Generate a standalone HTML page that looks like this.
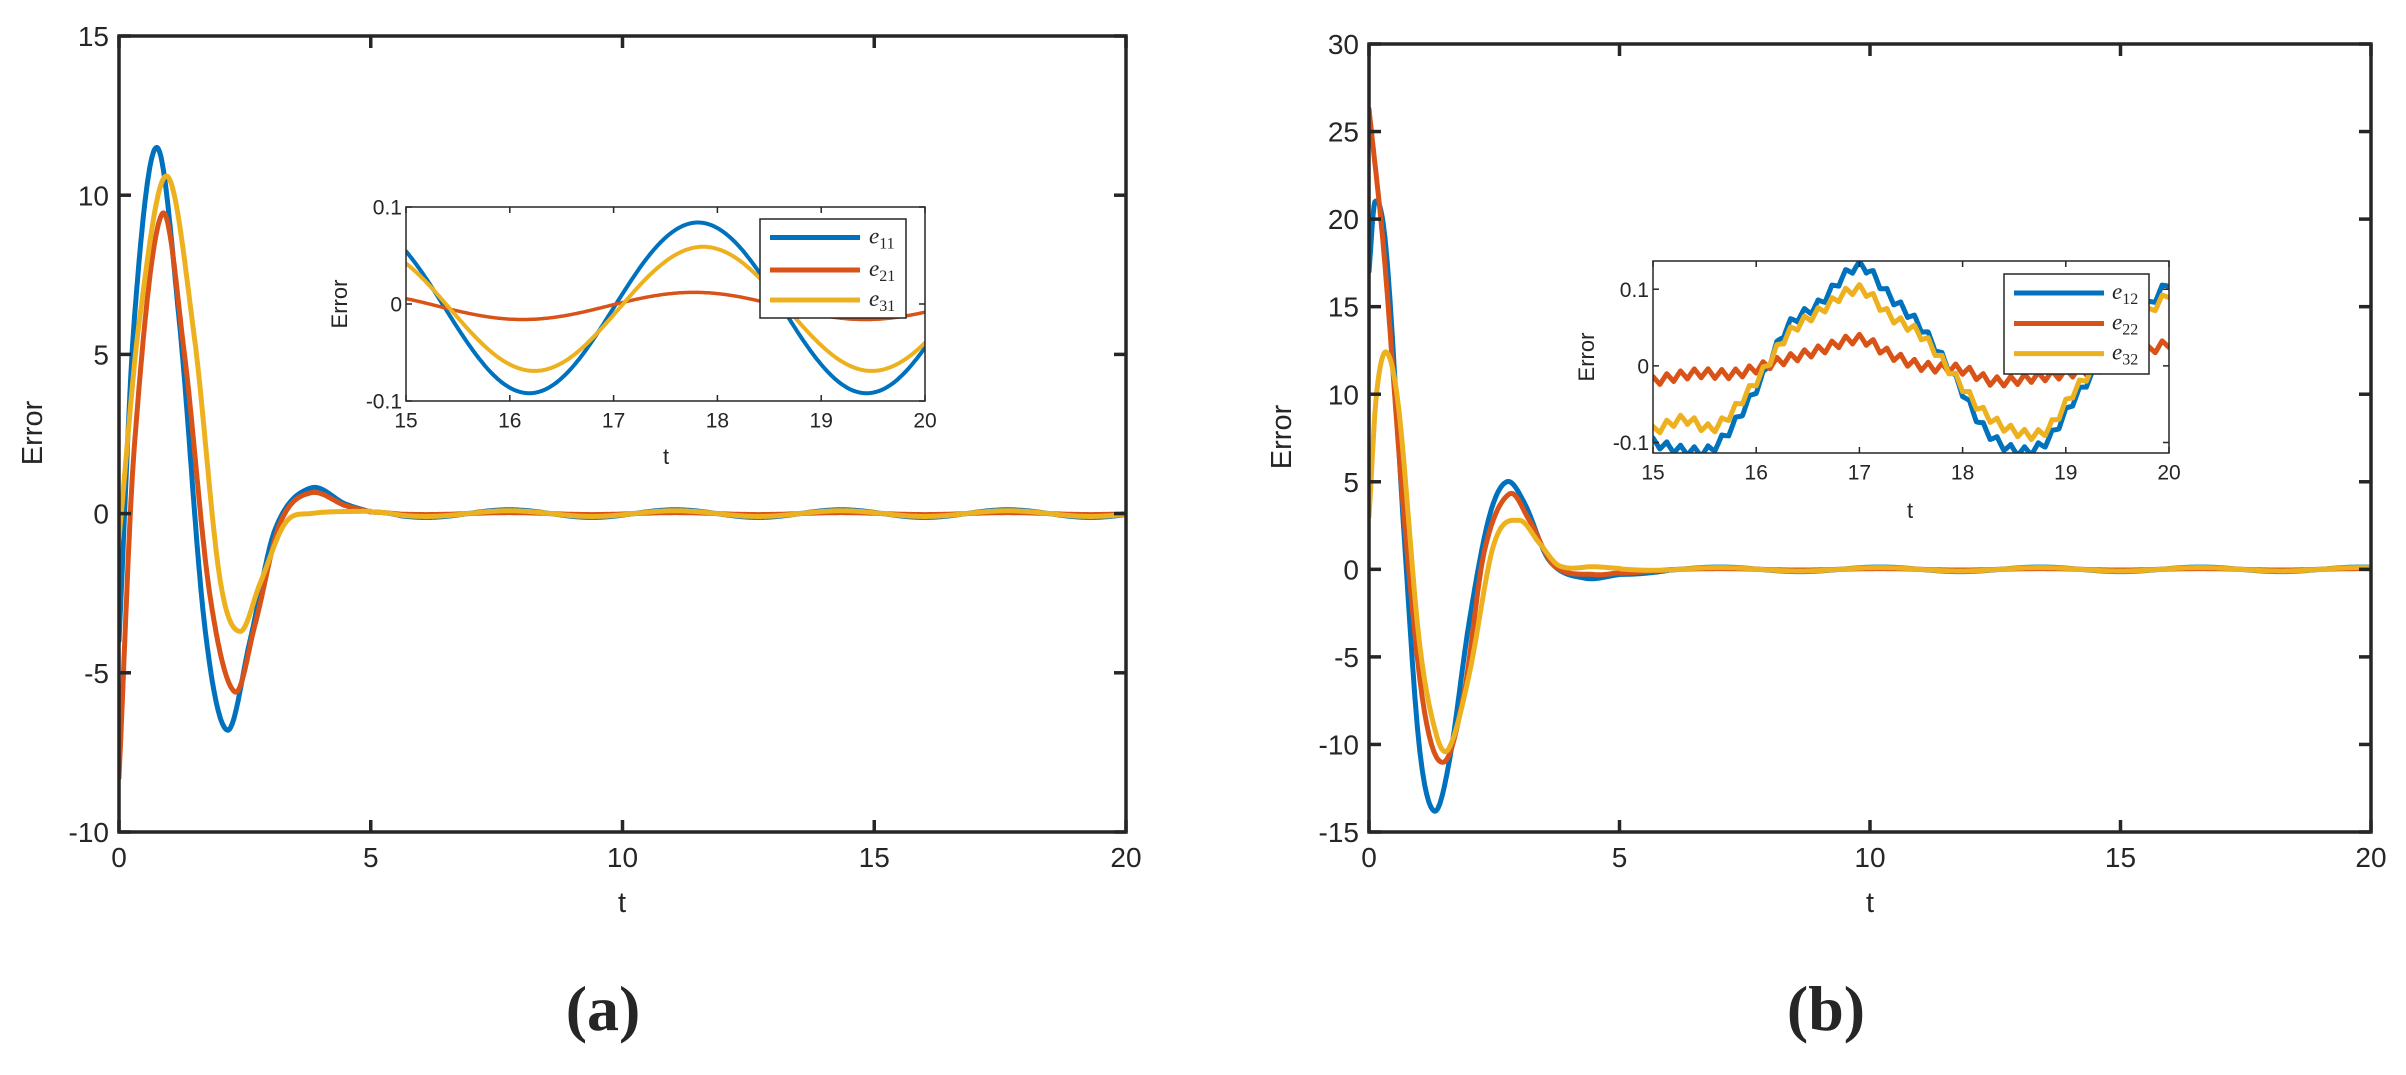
<!DOCTYPE html>
<html><head><meta charset="utf-8"><style>
html,body{margin:0;padding:0;background:#fff;}
svg text{font-family:"Liberation Sans",sans-serif;fill:#262626;}
</style></head><body>
<svg id="s" width="2406" height="1070" xmlns="http://www.w3.org/2000/svg">
<rect width="2406" height="1070" fill="#fff"/>
<g id="g"></g>
</svg>
<script>
const NS="http://www.w3.org/2000/svg";
const G=document.getElementById('g');
function el(tag,attrs,txt){const e=document.createElementNS(NS,tag);for(const k in attrs)e.setAttribute(k,attrs[k]);if(txt!==undefined)e.textContent=txt;G.appendChild(e);return e;}
function spline(pts,t){
  let i=0;while(i<pts.length-2&&t>pts[i+1][0])i++;
  const p0=pts[Math.max(i-1,0)],p1=pts[i],p2=pts[i+1],p3=pts[Math.min(i+2,pts.length-1)];
  const u=(t-p1[0])/(p2[0]-p1[0]);
  const m1=(p2[1]-p0[1])/(p2[0]-p0[0]||1)*(p2[0]-p1[0]);
  const m2=(p3[1]-p1[1])/(p3[0]-p1[0]||1)*(p2[0]-p1[0]);
  const u2=u*u,u3=u2*u;
  return (2*u3-3*u2+1)*p1[1]+(u3-2*u2+u)*m1+(-2*u3+3*u2)*p2[1]+(u3-u2)*m2;
}
const C=["#0072BD","#D95319","#EDB120"];
function axes(x0,y0,x1,y1,xmin,xmax,ymin,ymax,xt,yt,lw,tl,fs,xlab,ylab,lblOff){
  const X=v=>x0+(v-xmin)/(xmax-xmin)*(x1-x0), Y=v=>y1-(v-ymin)/(ymax-ymin)*(y1-y0);
  return {X,Y,draw(){
    el('rect',{x:x0,y:y0,width:x1-x0,height:y1-y0,fill:'none',stroke:'#262626','stroke-width':lw});
    xt.forEach(v=>{const x=X(v);el('line',{x1:x,y1:y1,x2:x,y2:y1-tl,stroke:'#262626','stroke-width':lw});el('line',{x1:x,y1:y0,x2:x,y2:y0+tl,stroke:'#262626','stroke-width':lw});
      el('text',{x:x,y:y1+fs*1.25,'font-size':fs,'text-anchor':'middle'},xlab(v));});
    yt.forEach(v=>{const y=Y(v);el('line',{x1:x0,y1:y,x2:x0+tl,y2:y,stroke:'#262626','stroke-width':lw});el('line',{x1:x1,y1:y,x2:x1-tl,y2:y,stroke:'#262626','stroke-width':lw});
      el('text',{x:x0-lblOff,y:y+fs*0.36,'font-size':fs,'text-anchor':'end'},ylab(v));});
  }};
}
function plotFn(ax,f,t0,t1,n,col,w,clip){
  let d='';for(let i=0;i<=n;i++){const t=t0+(t1-t0)*i/n;const x=ax.X(t),y=ax.Y(f(t));d+=(i?'L':'M')+x.toFixed(1)+' '+y.toFixed(1);}
  const p=el('path',{d:d,fill:'none',stroke:col,'stroke-width':w,'stroke-linejoin':'round','stroke-linecap':'round'});
  if(clip)p.setAttribute('clip-path','url(#'+clip+')');
}
function clipRect(id,x,y,w,h){const d=document.createElementNS(NS,'clipPath');d.setAttribute('id',id);const r=document.createElementNS(NS,'rect');r.setAttribute('x',x);r.setAttribute('y',y);r.setAttribute('width',w);r.setAttribute('height',h);d.appendChild(r);G.appendChild(d);}
const fmt=v=>String(v);
// ---------- LEFT MAIN ----------
const A=axes(119,36,1126,832,0,20,-10,15,[0,5,10,15,20],[-10,-5,0,5,10,15],3.5,12,28,fmt,fmt,10);
const L1=[[0,-4],[0.3,6],[0.75,11.5],[1.2,6],[1.7,-3.5],[2.15,-6.8],[2.6,-4],[3.1,-0.5],[3.8,0.8],[4.5,0.3],[5,0.05]];
const L2=[[0,-8.3],[0.3,2],[0.85,9.4],[1.3,5],[1.8,-2.5],[2.3,-5.6],[2.7,-3.5],[3.2,-0.3],[3.8,0.65],[4.5,0.25],[5,0.05]];
const L3=[[0,-0.8],[0.4,6],[0.95,10.6],[1.5,5.5],[2,-2],[2.4,-3.7],[2.8,-2.2],[3.3,-0.3],[3.8,0],[5,0.08]];
const tailL=(amp,off)=>t=>-amp*Math.cos(2*Math.PI*(t-6.1)/3.3)+off;
const fL=(pts,tl)=>t=>t<=5?spline(pts,t):tl(t)*Math.min(1,(t-5)/0.6)+0.05*Math.max(0,1-(t-5)/0.6);
clipRect('c1',119,36,1007,796);
plotFn(A,fL(L1,tailL(0.12,0)),0,20,1200,C[0],5,'c1');
plotFn(A,fL(L2,tailL(0.03,0)),0,20,1200,C[1],5,'c1');
plotFn(A,fL(L3,tailL(0.09,0)),0,20,1200,C[2],5,'c1');
A.draw();
el('text',{x:0,y:0,'font-size':29,'text-anchor':'middle',transform:'translate(42,433) rotate(-90)'},'Error');
el('text',{x:622,y:912,'font-size':29,'text-anchor':'middle'},'t');
el('text',{x:603,y:1030,'font-size':64,'font-weight':'bold','text-anchor':'middle',style:'font-family:"Liberation Serif",serif'},'(a)');
// ---------- LEFT INSET ----------
el('rect',{x:406,y:207,width:519,height:194,fill:'#fff'});
const I=axes(406,207,925,401,15,20,-0.1,0.1,[15,16,17,18,19,20],[-0.1,0,0.1],1.5,6,21,fmt,fmt,4);
clipRect('c2',406,207,519,194);
const w1=t=>Math.sin(2*Math.PI*(t-17)/3.25);
plotFn(I,t=>0.088*w1(t)-0.004,15,20,400,C[0],4,'c2');
plotFn(I,t=>0.014*Math.sin(2*Math.PI*(t-16.95)/3.3)-0.002,15,20,400,C[1],3.5,'c2');
plotFn(I,t=>0.064*Math.sin(2*Math.PI*(t-17.05)/3.25)-0.005,15,20,400,C[2],4,'c2');
I.draw();
el('text',{x:0,y:0,'font-size':22,'text-anchor':'middle',transform:'translate(347,304) rotate(-90)'},'Error');
el('text',{x:666,y:464,'font-size':22,'text-anchor':'middle'},'t');
function legend(x,y,w,h,lx1,lx2,tx,rows,labels){
  el('rect',{x:x,y:y,width:w,height:h,fill:'#fff',stroke:'#262626','stroke-width':1.5});
  rows.forEach((ry,i)=>{el('line',{x1:lx1,y1:ry,x2:lx2,y2:ry,stroke:C[i],'stroke-width':5});
    const t=el('text',{x:tx,y:ry+6,'font-size':23,style:'font-family:"Liberation Serif",serif;font-style:italic'});
    const a=document.createElementNS(NS,'tspan');a.textContent='e';t.appendChild(a);
    const b=document.createElementNS(NS,'tspan');b.setAttribute('font-size','16');b.setAttribute('dy','5');b.setAttribute('style','font-style:normal');b.textContent=labels[i];t.appendChild(b);});
}
legend(760,219,146,99,770,860,869,[237.5,270,300],['11','21','31']);
// ---------- RIGHT MAIN ----------
const B=axes(1369,44,2371,832,0,20,-15,30,[0,5,10,15,20],[-15,-10,-5,0,5,10,15,20,25,30],3.5,12,28,fmt,fmt,10);
const R1=[[0,17],[0.12,21],[0.35,18],[0.7,2],[1.0,-10],[1.3,-13.8],[1.6,-11],[2.0,-3],[2.4,3],[2.75,5],[3.1,3.8],[3.6,0.5],[4.3,-0.5],[5,-0.3]];
const R2=[[0,26.3],[0.3,18],[0.7,3],[1.1,-8],[1.5,-11],[1.9,-7],[2.3,1],[2.8,4.3],[3.2,2.8],[3.7,0.2],[4.5,-0.3],[5,-0.2]];
const R3=[[0,3],[0.15,10],[0.35,12.4],[0.6,9],[1.0,-4],[1.35,-9.5],[1.6,-10.2],[2.0,-6],[2.5,1.5],[3.0,2.8],[3.4,1.5],[3.8,0.2],[4.5,0.15],[5,0.05]];
const tailR=(amp)=>t=>amp*Math.sin(2*Math.PI*(t-6.2)/3.2);
const fR=(pts,tl,e)=>t=>t<=5?spline(pts,t):tl(t)+e*Math.max(0,1-(t-5)/1);
clipRect('c3',1369,44,1002,788);
plotFn(B,fR(R1,tailR(0.13),-0.2),0,20,1200,C[0],5,'c3');
plotFn(B,fR(R2,tailR(0.04),-0.2),0,20,1200,C[1],5,'c3');
plotFn(B,fR(R3,tailR(0.1),0.1),0,20,1200,C[2],5,'c3');
B.draw();
el('text',{x:0,y:0,'font-size':29,'text-anchor':'middle',transform:'translate(1291,437) rotate(-90)'},'Error');
el('text',{x:1870,y:912,'font-size':29,'text-anchor':'middle'},'t');
el('text',{x:1826,y:1030,'font-size':64,'font-weight':'bold','text-anchor':'middle',style:'font-family:"Liberation Serif",serif'},'(b)');
// ---------- RIGHT INSET ----------
el('rect',{x:1653,y:261,width:516,height:192,fill:'#fff'});
const J=axes(1653,261,2169,453,15,20,-0.1137,0.1368,[15,16,17,18,19,20],[-0.1,0,0.1],1.5,6,21,fmt,fmt,4);
clipRect('c4',1653,261,516,192);
const base1=[[15,-0.1],[15.3,-0.11],[15.6,-0.105],[16,-0.03],[16.3,0.05],[16.6,0.08],[17,0.13],[17.3,0.09],[17.6,0.05],[17.9,-0.01],[18.2,-0.08],[18.5,-0.11],[18.8,-0.1],[19.1,-0.04],[19.5,0.03],[20,0.11]];
const base3=[[15,-0.085],[15.3,-0.07],[15.6,-0.08],[16,-0.02],[16.3,0.04],[16.6,0.07],[17,0.1],[17.3,0.065],[17.6,0.04],[17.9,-0.01],[18.2,-0.06],[18.5,-0.085],[18.8,-0.085],[19.1,-0.03],[19.5,0.03],[20,0.095]];
const base2=[[15,-0.02],[15.4,-0.01],[15.8,-0.01],[16.2,0.005],[16.6,0.02],[17,0.035],[17.3,0.015],[17.6,0.0],[18,-0.005],[18.3,-0.02],[18.7,-0.015],[19,-0.01],[19.4,0.0],[20,0.03]];
const stair=(pts,a)=>t=>{const v=spline(pts,t);const ph=(t*7.5)%1;return v+a*(ph<0.5?ph*2-0.5:1.5-ph*2);};
plotFn(J,stair(base1,0.012),15,20,600,C[0],5,'c4');
plotFn(J,stair(base2,0.012),15,20,600,C[1],5,'c4');
plotFn(J,stair(base3,0.012),15,20,600,C[2],5,'c4');
J.draw();
el('text',{x:0,y:0,'font-size':22,'text-anchor':'middle',transform:'translate(1594,357) rotate(-90)'},'Error');
el('text',{x:1910,y:518,'font-size':22,'text-anchor':'middle'},'t');
legend(2004,274,145,100,2014,2104,2112,[293,323.5,353.6],['12','22','32']);
</script>
</body></html>
